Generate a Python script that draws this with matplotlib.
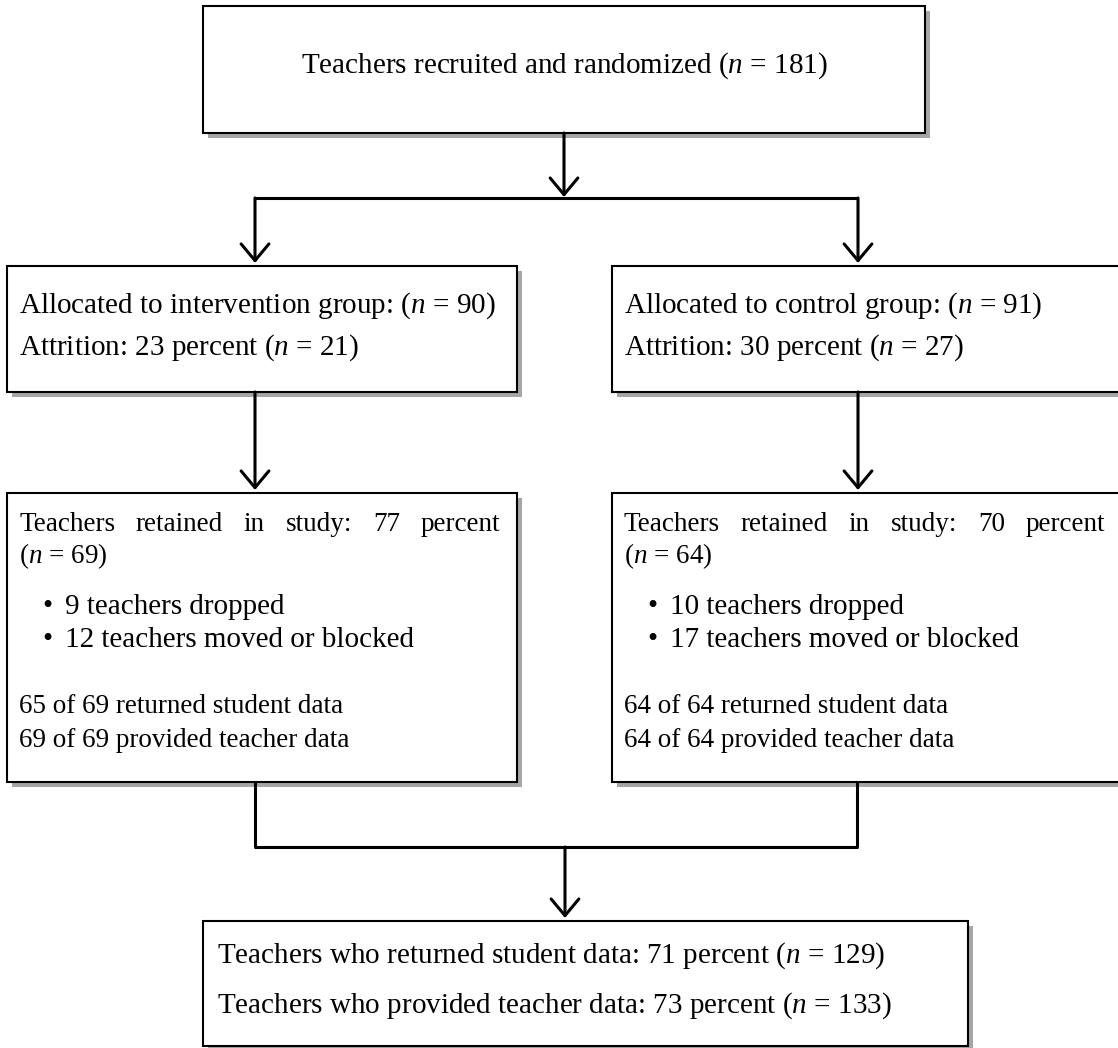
import matplotlib
matplotlib.use("Agg")
import matplotlib.pyplot as plt
from matplotlib.patches import Rectangle

plt.rcParams['font.family'] = ['Liberation Serif', 'DejaVu Serif']
plt.rcParams['mathtext.fontset'] = 'custom'
plt.rcParams['mathtext.rm'] = 'Liberation Serif'
plt.rcParams['mathtext.it'] = 'Liberation Serif:italic'

# box texts (lines), $n$ gives the italic n
top_text = "Teachers recruited and randomized ($n$ = 181)"
alloc_left = ["Allocated to intervention group: ($n$ = 90)",
              "Attrition: 23 percent ($n$ = 21)"]
alloc_right = ["Allocated to control group: ($n$ = 91)",
               "Attrition: 30 percent ($n$ = 27)"]
retained_left = ["Teachers retained in study: 77 percent", "($n$ = 69)"]
retained_right = ["Teachers retained in study: 70 percent", "($n$ = 64)"]
bullets_left = ["9 teachers dropped", "12 teachers moved or blocked"]
bullets_right = ["10 teachers dropped", "17 teachers moved or blocked"]
data_left = ["65 of 69 returned student data", "69 of 69 provided teacher data"]
data_right = ["64 of 64 returned student data", "64 of 64 provided teacher data"]
final_text = ["Teachers who returned student data: 71 percent ($n$ = 129)",
              "Teachers who provided teacher data: 73 percent ($n$ = 133)"]

W, H = 1118, 1048
fig = plt.figure(figsize=(W / 100, H / 100), dpi=100)
ax = fig.add_axes([0, 0, 1, 1])
ax.set_xlim(0, W)
ax.set_ylim(H, 0)
ax.axis('off')
renderer = fig.canvas.get_renderer()

FS = 21
FS_SMALL = 19.5
LW_BOX = 1.5
LW_LINE = 2.2


def box(x0, y0, x1, y1):
    ax.add_patch(Rectangle((x0 + 5, y0 + 5), x1 - x0, y1 - y0,
                           facecolor='#a6a6a6', edgecolor='none', zorder=1))
    ax.add_patch(Rectangle((x0, y0), x1 - x0, y1 - y0, facecolor='white',
                           edgecolor='black', lw=LW_BOX, zorder=2))


def arrow(x, y0, y1):
    ax.annotate('', xy=(x, y1), xytext=(x, y0),
                arrowprops=dict(arrowstyle='->,head_length=1.2,head_width=1.0',
                                lw=LW_LINE, color='black', mutation_scale=10,
                                shrinkA=0, shrinkB=0), zorder=3)


def line(xs, ys):
    ax.plot(xs, ys, color='black', lw=LW_LINE, solid_capstyle='butt', zorder=3)


def justified(x_left, x_right, y, s, fs):
    # spread words over the line like a justified paragraph
    words = s.split(' ')
    arts = [ax.text(0, y, w, fontsize=fs, va='baseline', zorder=4) for w in words]
    widths = [a.get_window_extent(renderer).width for a in arts]
    gap = (x_right - x_left - sum(widths)) / (len(words) - 1)
    x = x_left
    for a, w in zip(arts, widths):
        a.set_x(x)
        x += w + gap


# top box
box(203, 6, 925, 133)
ax.text(564, 73, top_text, fontsize=FS, ha='center', va='baseline', zorder=4)

# split
arrow(564, 133, 197)
line([255, 858], [198, 198])
arrow(255, 198, 263)
arrow(858, 198, 263)

# allocation boxes
for x0, x1, lines in [(7, 517, alloc_left), (612, 1121, alloc_right)]:
    box(x0, 266, x1, 392)
    for yb, t in zip([313, 355], lines):
        ax.text(x0 + 12, yb, t, fontsize=FS, va='baseline', zorder=4)

arrow(255, 392, 490)
arrow(858, 392, 490)

# retained boxes
for x0, x1, head, bl, dl in [(7, 517, retained_left, bullets_left, data_left),
                             (612, 1121, retained_right, bullets_right, data_right)]:
    box(x0, 493, x1, 782)
    tx = x0 + 12
    justified(tx, x0 + 493, 531, head[0], FS_SMALL)
    ax.text(tx, 563, head[1], fontsize=FS_SMALL, va='baseline', zorder=4)
    for yb, t in zip([614, 647], bl):
        ax.text(tx + 23, yb, "\u2022", fontsize=FS, va='baseline', zorder=4)
        ax.text(tx + 46, yb, t, fontsize=FS, va='baseline', zorder=4)
    for yb, t in zip([713, 747], dl):
        ax.text(tx, yb, t, fontsize=FS_SMALL, va='baseline', zorder=4)

# merge bracket
line([255, 255], [782, 847])
line([857, 857], [782, 847])
line([254, 858], [847, 847])
arrow(565, 847, 918)

# final box
box(203, 921, 968, 1046)
for yb, t in zip([963, 1013], final_text):
    ax.text(217, yb, t, fontsize=FS, va='baseline', zorder=4)

fig.savefig("out.png", dpi=100, facecolor='white')
